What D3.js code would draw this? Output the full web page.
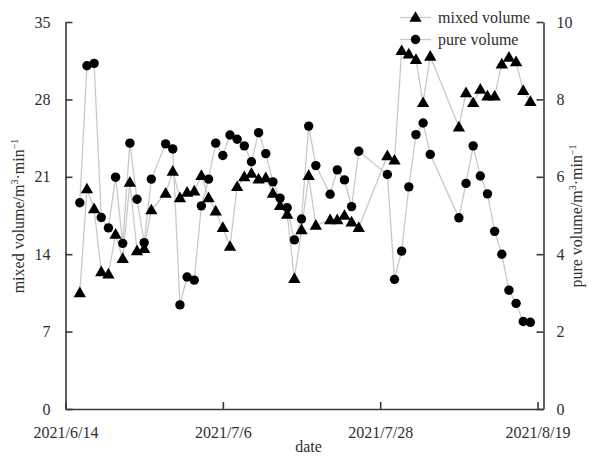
<!DOCTYPE html>
<html>
<head>
<meta charset="utf-8">
<script src="https://cdn.jsdelivr.net/npm/d3@7"></script>
<style>
  html, body { margin: 0; padding: 0; background: #fff; }
  svg { display: block; font-family: "Liberation Serif", "Times New Roman", serif; }
</style>
</head>
<body>
<svg id="chart" width="594" height="456"></svg>
<script>
// Sampling dates (days without a measurement are simply absent)
const dates = [
  "2021-06-16","2021-06-17","2021-06-18","2021-06-19","2021-06-20","2021-06-21","2021-06-22",
  "2021-06-23","2021-06-24","2021-06-25","2021-06-26","2021-06-28","2021-06-29","2021-06-30",
  "2021-07-01","2021-07-02","2021-07-03","2021-07-04","2021-07-05","2021-07-06","2021-07-07",
  "2021-07-08","2021-07-09","2021-07-10","2021-07-11","2021-07-12","2021-07-13","2021-07-14",
  "2021-07-15","2021-07-16","2021-07-17","2021-07-18","2021-07-19","2021-07-21","2021-07-22",
  "2021-07-23","2021-07-24","2021-07-25","2021-07-29","2021-07-30","2021-07-31","2021-08-01",
  "2021-08-02","2021-08-03","2021-08-04","2021-08-08","2021-08-09","2021-08-10","2021-08-11",
  "2021-08-12","2021-08-13","2021-08-14","2021-08-15","2021-08-16","2021-08-17","2021-08-18"
];

// mixed volume, m3/min (left axis)
const mixedVolume = [
  10.5, 19.9, 18.1, 12.4, 12.2, 15.8, 13.6,
  20.5, 14.3, 14.5, 18.0, 19.5, 21.5, 19.1,
  19.6, 19.7, 21.1, 19.1, 17.9, 16.4, 14.7,
  20.1, 21.0, 21.3, 20.8, 20.9, 19.5, 18.4,
  17.6, 11.8, 16.2, 21.1, 16.6, 17.1, 17.1,
  17.5, 16.9, 16.4, 22.9, 22.5, 32.4, 32.1,
  31.6, 27.7, 31.9, 25.5, 28.6, 27.7, 28.9,
  28.3, 28.3, 31.2, 31.8, 31.4, 28.8, 27.8
];

// pure volume, m3/min (right axis)
const pureVolume = [
  5.33, 8.87, 8.93, 4.95, 4.68, 5.99, 4.28,
  6.87, 5.42, 4.30, 5.94, 6.85, 6.72, 2.69,
  3.41, 3.33, 5.25, 5.94, 6.87, 6.55, 7.08,
  6.97, 6.80, 6.39, 7.14, 6.60, 5.87, 5.45,
  5.20, 4.37, 4.91, 7.31, 6.29, 5.55, 6.18,
  5.92, 5.23, 6.66, 6.06, 3.35, 4.08, 5.74,
  7.09, 7.39, 6.58, 4.94, 5.83, 6.80, 6.02,
  5.56, 4.59, 4.00, 3.07, 2.73, 2.26, 2.24
];

const xTickLabels = ["2021/6/14", "2021/7/6", "2021/7/28", "2021/8/19"];
const leftTicks = [0, 7, 14, 21, 28, 35];
const rightTicks = [0, 2, 4, 6, 8, 10];

const seriesNames = ["mixed volume", "pure volume"];

const parse = d3.utcParse("%Y-%m-%d");
const parseTick = d3.utcParse("%Y/%m/%d");
const rows = dates.map((d, i) => ({ date: parse(d), mixed: mixedVolume[i], pure: pureVolume[i] }));

const svg = d3.select("#chart");
const m = { left: 65.5, right: 543.5, top: 22, bottom: 409 };

const start = parseTick(xTickLabels[0]);
const end = d3.utcHour.offset(parseTick(xTickLabels[3]), 20);
const x = d3.scaleUtc().domain([start, end]).range([m.left, m.right]);
const yL = d3.scaleLinear().domain([0, 35]).range([m.bottom, m.top]);
const yR = d3.scaleLinear().domain([0, 10]).range([m.bottom, m.top]);

const axisColor = "#3a3a3a";
const textColor = "#2e2e2e";
const lineColor = "#c9c9c9";

// series lines
const lineMixed = d3.line().x(d => x(d.date)).y(d => yL(d.mixed));
const linePure = d3.line().x(d => x(d.date)).y(d => yR(d.pure));

svg.append("path").datum(rows).attr("d", lineMixed)
  .attr("fill", "none").attr("stroke", lineColor).attr("stroke-width", 1.3);
svg.append("path").datum(rows).attr("d", linePure)
  .attr("fill", "none").attr("stroke", lineColor).attr("stroke-width", 1.3);

const tri = d3.symbol().type(d3.symbolTriangle).size(66);

// markers
svg.append("g").selectAll("circle").data(rows).join("circle")
  .attr("cx", d => x(d.date)).attr("cy", d => yR(d.pure)).attr("r", 4.7)
  .attr("fill", "#000");
svg.append("g").selectAll("path").data(rows).join("path")
  .attr("d", tri)
  .attr("transform", d => `translate(${x(d.date)},${yL(d.mixed) + 0.8})`)
  .attr("fill", "#000");

// axes
function styleAxis(g) {
  g.select(".domain").attr("stroke", axisColor).attr("stroke-width", 1.6);
  g.selectAll(".tick line").attr("stroke", axisColor).attr("stroke-width", 1.6);
  g.selectAll(".tick text").attr("fill", textColor)
    .style("font-family", "'Liberation Serif', 'Times New Roman', serif")
    .style("font-size", "16px");
}

const xAxis = d3.axisBottom(x)
  .tickValues(xTickLabels.map(parseTick))
  .tickFormat((d, i) => xTickLabels[i])
  .tickSizeInner(-7).tickSizeOuter(0).tickPadding(18);
svg.append("g").attr("transform", `translate(0,${m.bottom})`).call(xAxis).call(styleAxis);

const leftAxis = d3.axisLeft(yL).tickValues(leftTicks)
  .tickSizeInner(-7).tickSizeOuter(0).tickPadding(15);
svg.append("g").attr("transform", `translate(${m.left},0)`).call(leftAxis).call(styleAxis);

const rightAxis = d3.axisRight(yR).tickValues(rightTicks)
  .tickSizeInner(-7).tickSizeOuter(0).tickPadding(13);
svg.append("g").attr("transform", `translate(${m.right},0)`).call(rightAxis).call(styleAxis);

// axis titles
const titleFont = "'Liberation Serif', 'Times New Roman', serif";
svg.append("text").attr("x", (m.left + m.right) / 2 + 4).attr("y", 452)
  .attr("text-anchor", "middle").attr("fill", textColor)
  .style("font-family", titleFont).style("font-size", "16px").text("date");

function unitTitle(txt, cx, cy) {
  const t = svg.append("text")
    .attr("transform", `translate(${cx},${cy}) rotate(-90)`)
    .attr("text-anchor", "middle").attr("fill", textColor)
    .style("font-family", titleFont).style("font-size", "16px");
  t.append("tspan").text(txt + "/m");
  t.append("tspan").attr("dy", -6).style("font-size", "10px").text("3");
  t.append("tspan").attr("dy", 6).text("·min");
  t.append("tspan").attr("dy", -6).style("font-size", "10px").text("−1");
}
unitTitle("mixed volume", 24, 216);
unitTitle("pure volume", 582, 216);

// legend
const legend = svg.append("g").attr("transform", "translate(400,17.5)");
[0, 1].forEach(i => {
  const g = legend.append("g").attr("transform", `translate(0,${i * 22})`);
  g.append("line").attr("x1", 0).attr("x2", 31).attr("y1", 0).attr("y2", 0)
    .attr("stroke", lineColor).attr("stroke-width", 1.3);
  if (i === 0) {
    g.append("path").attr("d", tri).attr("transform", "translate(15.5,0.8)").attr("fill", "#000");
  } else {
    g.append("circle").attr("cx", 15.5).attr("cy", 0).attr("r", 4.7).attr("fill", "#000");
  }
  g.append("text").attr("x", 38).attr("y", 5.5).attr("fill", textColor)
    .style("font-family", titleFont).style("font-size", "16px").text(seriesNames[i]);
});
</script>
</body>
</html>
